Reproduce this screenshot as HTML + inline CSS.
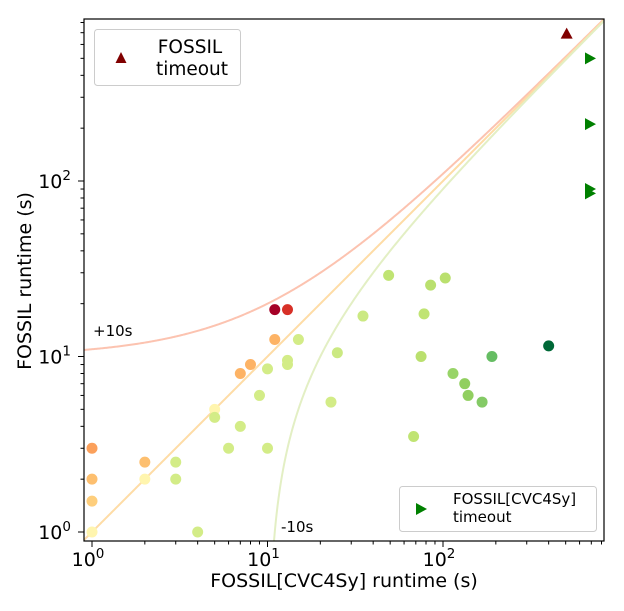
<!DOCTYPE html>
<html><head><meta charset="utf-8"><style>
html,body{margin:0;padding:0;background:#fff;width:624px;height:611px;overflow:hidden}
svg{display:block}
svg text{font-family:"DejaVu Sans","Liberation Sans",sans-serif}
</style></head><body>
<svg id="chart" width="624" height="611" viewBox="0 0 624 611" xmlns="http://www.w3.org/2000/svg">
<g id="curves"></g><g id="points"></g><g id="axes"></g>
<text x="93" y="336" font-size="15" fill="#000">+10s</text>
<text x="281" y="532" font-size="15" fill="#000">-10s</text>
<g>
<rect x="94.5" y="29.5" width="146" height="56" rx="3" fill="#fff" stroke="#ccc"/>
<polygon points="121,52 115.5,63 126.5,63" fill="#800000"/>
<text x="190" y="53" font-size="18.5" text-anchor="middle">FOSSIL</text>
<text x="192" y="75" font-size="18.5" text-anchor="middle">timeout</text>
</g>
<g>
<rect x="399.5" y="486.5" width="197" height="45" rx="3" fill="#fff" stroke="#ccc"/>
<polygon points="416,503 427,509 416,515" fill="#008000"/>
<text x="453" y="504" font-size="15">FOSSIL[CVC4Sy]</text>
<text x="453" y="522" font-size="15">timeout</text>
</g>
<text x="344" y="587" font-size="19" text-anchor="middle">FOSSIL[CVC4Sy] runtime (s)</text>
<text transform="translate(31,281) rotate(-90)" font-size="19" text-anchor="middle">FOSSIL runtime (s)</text>
</svg>
<script>
const xs=[1,1,1,1,2,2,3,3,4,5,5,6,7,7,8,9,10,10,11,11,13,13,13,15,23,25,35,49,68,75,78,85,103,114,133,139,167,190,400];
const ys=[3,2,1.5,1,2.5,2,2.5,2,1,5,4.5,3,8,4,9,6,3,8.5,18.5,12.5,18.5,9.5,9,12.5,5.5,10.5,17,29,3.5,10,17.5,25.5,28,8,7,6,5.5,10,11.5];
const colors=['#fba05b','#fdbf6f','#fece7c','#fff5ae','#fdbf6f','#fff5ae','#d3ec87','#d3ec87','#d3ec87','#fff5ae','#d3ec87','#d3ec87','#fdb365','#d3ec87','#fdb365','#d3ec87','#d3ec87','#d3ec87','#a50026','#fdb365','#d73027','#d3ec87','#d3ec87','#d3ec87','#d3ec87','#cbe982','#cbe982','#c0e473','#c0e473','#bae06e','#c0e473','#bae06e','#bae06e','#98d468','#91cf60','#91cf60','#84ca66','#66bd63','#006837'];
const cvcTimeoutYs=[500,211,90,85];
const fossilTimeoutXs=[500];
const TIMEOUT=700;
const X0=84,X1=604,Y0=19,Y1=541;
const D=175.5;
const sx=v=>92+D*Math.log10(v);
const sy=v=>532-D*Math.log10(v);
const NS='http://www.w3.org/2000/svg';
function mk(tag,attrs,parent){const e=document.createElementNS(NS,tag);for(const k in attrs)e.setAttribute(k,attrs[k]);parent.appendChild(e);return e;}
const curves=document.getElementById('curves'),pts=document.getElementById('points'),axes=document.getElementById('axes');
const cp=mk('clipPath',{id:'clip'},curves);
mk('rect',{x:X0,y:Y0,width:X1-X0,height:Y1-Y0},cp);
function curve(off,color,name){let d='';let first=true;
 for(let i=0;i<=600;i++){const lx=-0.1+i*3.1/600;const x=Math.pow(10,lx);const y=x+off;if(y<=0)continue;
  d+=(first?'M':'L')+sx(x).toFixed(2)+','+sy(y).toFixed(2);first=false;}
 const p=mk('path',{d:d,fill:'none',stroke:color,'stroke-width':2,'clip-path':'url(#clip)'},curves);
 
 }
curve(10,'#fcc3b0','plus-10s-curve');
curve(0,'#fedca6','diagonal-line');
curve(-10,'#e3efc4','minus-10s-curve');
xs.forEach((x,i)=>{const c=mk('circle',{cx:sx(x),cy:sy(ys[i]),r:5.5,fill:colors[i]},pts);
 
 });
cvcTimeoutYs.forEach(y=>{const X=590,Y=sy(y);const t=mk('polygon',{points:`${X-5},${Y-6} ${X+6},${Y} ${X-5},${Y+6}`,fill:'#008000'},pts);
 
 });
fossilTimeoutXs.forEach(x=>{const X=sx(x)+1,Y=sy(TIMEOUT)+1;const t=mk('polygon',{points:`${X},${Y-6} ${X-6},${Y+5} ${X+6},${Y+5}`,fill:'#800000'},pts);
 
 });
mk('rect',{x:X0,y:Y0,width:X1-X0,height:Y1-Y0,fill:'none',stroke:'#000','stroke-width':1.2},axes);
for(let dec=0;dec<3;dec++){for(let m=1;m<10;m++){const v=m*Math.pow(10,dec);const px=sx(v),py=sy(v);const L=m==1?6:3.5;
 if(px>=X0&&px<=X1)mk('line',{x1:px,x2:px,y1:Y1,y2:Y1+L,stroke:'#000','stroke-width':1},axes);
 if(py>=Y0&&py<=Y1)mk('line',{x1:X0,x2:X0-L,y1:py,y2:py,stroke:'#000','stroke-width':1},axes);}}
const tickExps=['0','1','2'];
tickExps.forEach((e,i)=>{const v=Math.pow(10,i);
 const tx=mk('text',{x:sx(v)-4,y:566,'font-size':19,'text-anchor':'middle'},axes);tx.textContent='10';
 const sp=mk('tspan',{dy:-8,'font-size':13.5},tx);sp.textContent=e;
 
 
 const ty=mk('text',{x:71,y:sy(v)+7,'font-size':19,'text-anchor':'end'},axes);ty.textContent='10';
 const sp2=mk('tspan',{dy:-8,'font-size':13.5},ty);sp2.textContent=e;
 
 });
</script>
</body></html>
